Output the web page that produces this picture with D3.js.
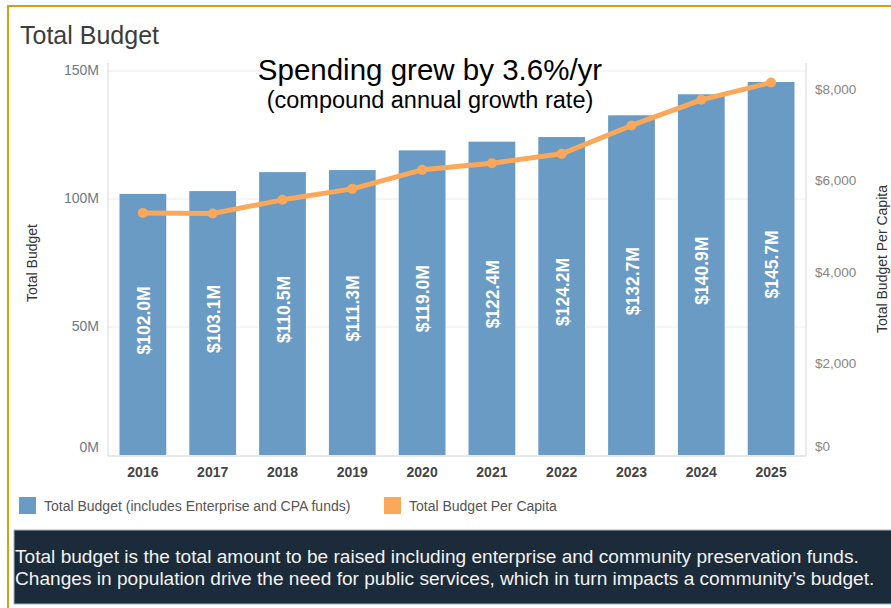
<!DOCTYPE html>
<html>
<head>
<meta charset="utf-8">
<script src="https://cdn.jsdelivr.net/npm/d3@7/dist/d3.min.js"></script>
<style>
  html, body { margin: 0; padding: 0; background: #fff; }
  svg { display: block; font-family: "Liberation Sans", Arial, sans-serif; }
</style>
</head>
<body>
<svg id="chart" width="891" height="608"></svg>
<script>
// Budget figures by fiscal year
const years = ["2016", "2017", "2018", "2019", "2020", "2021", "2022", "2023", "2024", "2025"];
const totalBudgetM = [102.0, 103.1, 110.5, 111.3, 119.0, 122.4, 124.2, 132.7, 140.9, 145.7];
const perCapita = [5290, 5275, 5575, 5815, 6230, 6375, 6580, 7200, 7760, 8140];
const leftTicks = [0, 50, 100, 150];
const rightTicks = [0, 2000, 4000, 6000, 8000];
const legendLabels = ["Total Budget (includes Enterprise and CPA funds)", "Total Budget Per Capita"];
const noteLines = [
  "Total budget is the total amount to be raised including enterprise and community preservation funds.",
  "Changes in population drive the need for public services, which in turn impacts a community\u2019s budget."
];

const svg = d3.select("#chart");
const barColor = "#6a9bc4";
const lineColor = "#fca85a";

// outer frame
svg.append("path")
  .attr("d", "M8,608 L8,6 L891,6")
  .attr("fill", "none").attr("stroke", "#d39e1a").attr("stroke-width", 2);

svg.append("text").attr("x", 20).attr("y", 44)
  .attr("font-size", 25).attr("fill", "#3d3d3d").text("Total Budget");

const plot = { left: 108, right: 806, top: 71, bottom: 455 };

const x = d3.scaleBand().domain(years).range([plot.left, plot.right]).paddingInner(0.33).paddingOuter(0.165);
const yL = d3.scaleLinear().domain([0, 150]).range([plot.bottom, plot.top]);
const yR = d3.scaleLinear().domain([0, 8390]).range([plot.bottom, plot.top]);

// gridlines
svg.append("g").selectAll("line").data(leftTicks.slice(1)).join("line")
  .attr("x1", plot.left).attr("x2", plot.right)
  .attr("y1", d => yL(d)).attr("y2", d => yL(d))
  .attr("stroke", "#ececec").attr("stroke-width", 1);

// left axis
const gL = svg.append("g").attr("transform", `translate(${plot.left},0)`)
  .call(d3.axisLeft(yL).tickValues(leftTicks).tickFormat(d => d + "M").tickSize(0).tickPadding(9));
gL.select(".domain").attr("stroke", "#d6d6d6").attr("d", `M0,${plot.top - 8}V${plot.bottom + 1}`);
gL.selectAll("text").attr("font-size", 14).attr("fill", "#6c7a8c")
  .attr("dy", d => d === 0 ? "-0.25em" : "0.28em");

// right axis
const gR = svg.append("g").attr("transform", `translate(${plot.right},0)`)
  .call(d3.axisRight(yR).tickValues(rightTicks).tickFormat(d => "$" + d3.format(",")(d)).tickSize(0).tickPadding(9));
gR.select(".domain").attr("stroke", "#d6d6d6").attr("d", `M0,${plot.top - 8}V${plot.bottom + 1}`);
gR.selectAll("text").attr("font-size", 13.5).attr("fill", "#8a8580")
  .attr("dy", d => d === 0 ? "-0.3em" : "0.32em");

// bottom axis
const gB = svg.append("g").attr("transform", `translate(0,${plot.bottom + 1})`)
  .call(d3.axisBottom(x).tickSize(0).tickPadding(11));
gB.select(".domain").attr("stroke", "#d0d0d0").attr("d", `M${plot.left},0H${plot.right}`);
gB.selectAll("text").attr("font-size", 14).attr("font-weight", "bold").attr("fill", "#444");

// axis titles
svg.append("text").attr("transform", `translate(37,${(plot.top + plot.bottom) / 2}) rotate(-90)`)
  .attr("text-anchor", "middle").attr("font-size", 14).attr("fill", "#333").text("Total Budget");
svg.append("text").attr("transform", `translate(887,${(plot.top + plot.bottom) / 2 - 4}) rotate(-90)`)
  .attr("text-anchor", "middle").attr("font-size", 14).attr("fill", "#333").text("Total Budget Per Capita");

// bars
svg.append("g").selectAll("rect").data(years).join("rect")
  .attr("x", d => x(d)).attr("width", x.bandwidth())
  .attr("y", (d, i) => yL(totalBudgetM[i]))
  .attr("height", (d, i) => plot.bottom - yL(totalBudgetM[i]))
  .attr("fill", barColor);

// value labels inside bars
svg.append("g").selectAll("text").data(years).join("text")
  .attr("transform", (d, i) => `translate(${x(d) + x.bandwidth() / 2 + 7},${(yL(totalBudgetM[i]) + plot.bottom) / 2 - 4}) rotate(-90)`)
  .attr("text-anchor", "middle").attr("font-size", 17.5).attr("font-weight", "bold").attr("fill", "#fff")
  .text((d, i) => "$" + totalBudgetM[i].toFixed(1) + "M");

// per-capita line
const line = d3.line().x((d, i) => x(years[i]) + x.bandwidth() / 2).y(d => yR(d));
svg.append("path").datum(perCapita).attr("d", line)
  .attr("fill", "none").attr("stroke", lineColor).attr("stroke-width", 5).attr("stroke-linejoin", "round");
svg.append("g").selectAll("circle").data(perCapita).join("circle")
  .attr("cx", (d, i) => x(years[i]) + x.bandwidth() / 2).attr("cy", d => yR(d))
  .attr("r", 5).attr("fill", lineColor);

// annotation
svg.append("text").attr("x", 430).attr("y", 80).attr("text-anchor", "middle")
  .attr("font-size", 29.5).attr("fill", "#000").text("Spending grew by 3.6%/yr");
svg.append("text").attr("x", 430).attr("y", 108).attr("text-anchor", "middle")
  .attr("font-size", 23.5).attr("fill", "#000").text("(compound annual growth rate)");

// legend
const legendX = [19, 384];
const legendColors = [barColor, lineColor];
const lg = svg.append("g").selectAll("g").data(legendLabels).join("g")
  .attr("transform", (d, i) => `translate(${legendX[i]},497)`);
lg.append("rect").attr("width", 17).attr("height", 17).attr("fill", (d, i) => legendColors[i]);
lg.append("text").attr("x", 25).attr("y", 14).attr("font-size", 14).attr("fill", "#555").text(d => d);

// explanatory note
svg.append("rect").attr("x", 14).attr("y", 530).attr("width", 885).attr("height", 74)
  .attr("fill", "#1b2b3a").attr("stroke", "#aab3bc").attr("stroke-width", 1);
svg.append("g").selectAll("text").data(noteLines).join("text")
  .attr("x", 15).attr("y", (d, i) => 563 + i * 22)
  .attr("font-size", 19.1).attr("fill", "#f2f2f2").text(d => d);
</script>
</body>
</html>
